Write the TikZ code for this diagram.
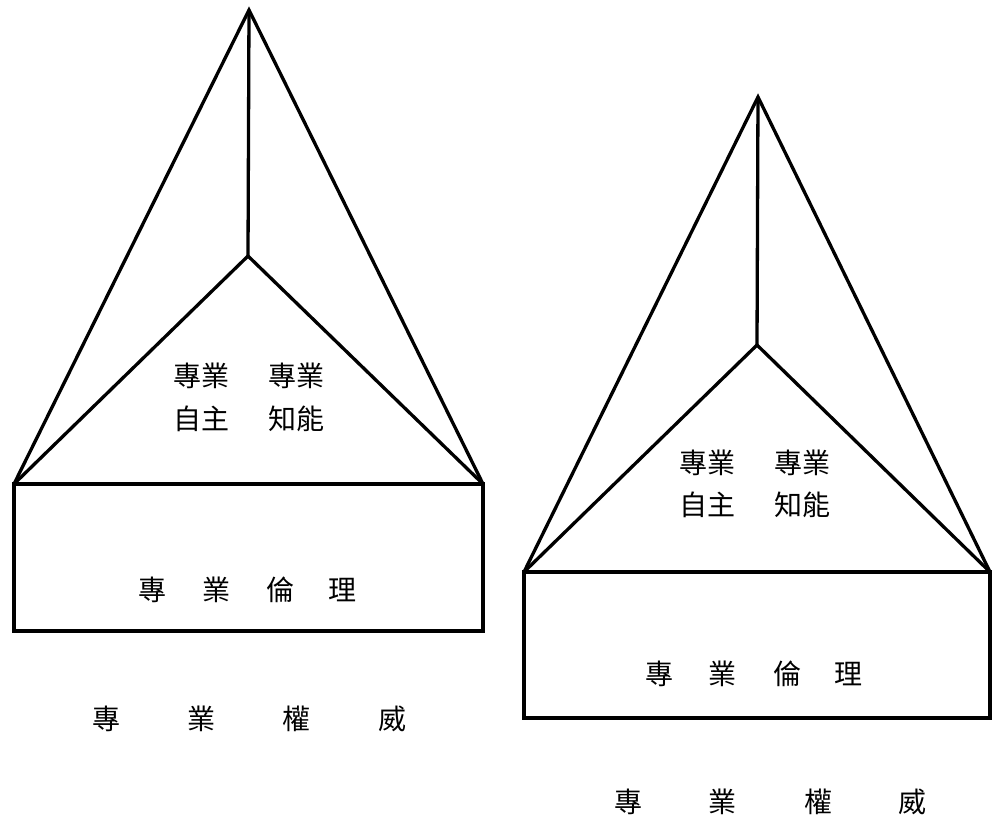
\documentclass[tikz,border=0pt]{standalone}
\usepackage{fontspec}
\newfontfamily\cjk{Noto Sans CJK TC}
\begin{document}
\begin{tikzpicture}[x=1pt,y=-1pt,
  edge/.style={line width=3.3pt, line join=miter, line cap=round},
  lab/.style={font=\cjk\fontsize{28}{32}\selectfont, inner sep=0pt, anchor=center}]
\useasboundingbox (0,0) rectangle (993,816);
% ---- left figure ----
\coordinate (LA) at (249,10);
\coordinate (LV) at (248,256);
\coordinate (LL) at (14,484);
\coordinate (LR) at (483,484);
\coordinate (LB) at (483,631);
\draw[edge] (LL) -- (LA) -- (LR);
\draw[edge] (LA) -- (LV);
\draw[edge] (LL) -- (LV) -- (LR);
\draw[edge] (LL) rectangle (LB);
\node[lab] (la1) at (201,376) {專業};
\node[lab] (la2) at (296,376) {專業};
\node[lab] (la3) at (201,419) {自主};
\node[lab] (la4) at (296,419) {知能};
\node[lab] (le1) at (152,590) {專};
\node[lab] (le2) at (216,590) {業};
\node[lab] (le3) at (280,590) {倫};
\node[lab] (le4) at (342,590) {理};
\node[lab] (lw1) at (106,719) {專};
\node[lab] (lw2) at (201,719) {業};
\node[lab] (lw3) at (296,719) {權};
\node[lab] (lw4) at (392,719) {威};
% ---- right figure ----
\coordinate (RA) at (758,97);
\coordinate (RV) at (757,345);
\coordinate (RL) at (524,572);
\coordinate (RR) at (990,572);
\coordinate (RB) at (990,718);
\draw[edge] (RL) -- (RA) -- (RR);
\draw[edge] (RA) -- (RV);
\draw[edge] (RL) -- (RV) -- (RR);
\draw[edge] (RL) rectangle (RB);
\node[lab] (ra1) at (707,463) {專業};
\node[lab] (ra2) at (802,463) {專業};
\node[lab] (ra3) at (707,505) {自主};
\node[lab] (ra4) at (802,505) {知能};
\node[lab] (re1) at (659,674) {專};
\node[lab] (re2) at (722,674) {業};
\node[lab] (re3) at (787,674) {倫};
\node[lab] (re4) at (848,674) {理};
\node[lab] (rw1) at (628,802) {專};
\node[lab] (rw2) at (722,802) {業};
\node[lab] (rw3) at (818,802) {權};
\node[lab] (rw4) at (912,802) {威};
\end{tikzpicture}
\end{document}
